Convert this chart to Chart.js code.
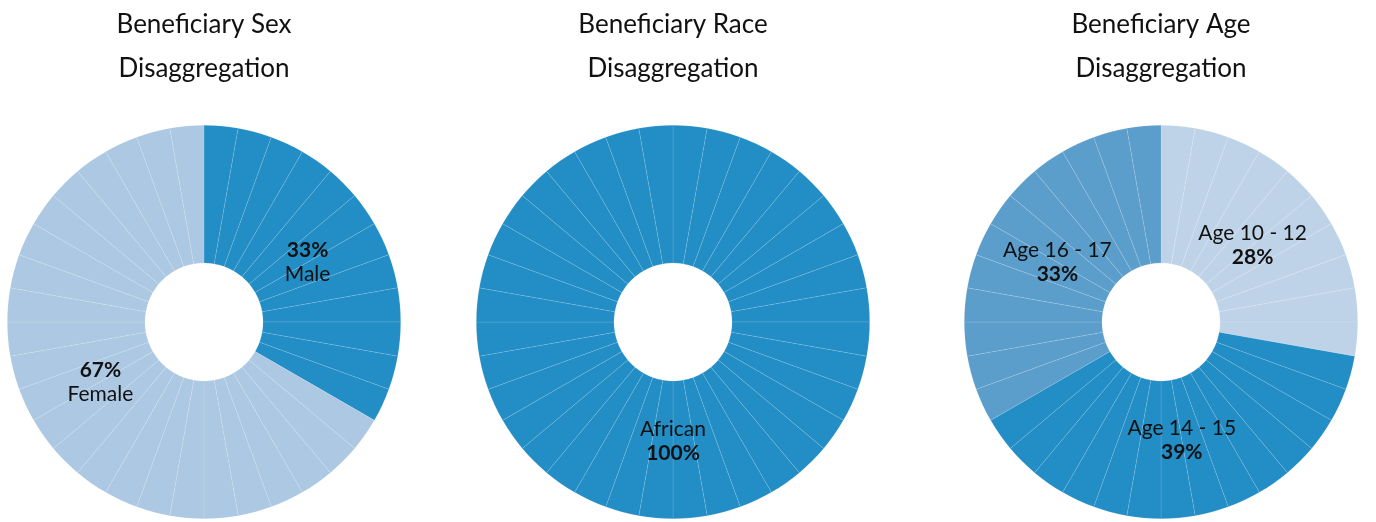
<!DOCTYPE html>
<html>
<head>
<meta charset="utf-8">
<title>Beneficiary Disaggregation</title>
<script src="https://cdn.jsdelivr.net/npm/chart.js@4/dist/chart.umd.min.js"></script>
<style>
    html, body { margin: 0; padding: 0; background: #fff; }
    body { width: 1376px; height: 522px; position: relative; overflow: hidden; }
    canvas { position: absolute; top: 0; }
</style>
</head>
<body>
<canvas id="sexChart" width="394" height="522" style="left:7px"></canvas>
<canvas id="raceChart" width="394" height="522" style="left:476px"></canvas>
<canvas id="ageChart" width="394" height="522" style="left:964px"></canvas>
<script>
// beneficiary counts per group (36 beneficiaries in total)
const sexLabels = ['Male', 'Female'];
const sexCounts = [12, 24];

const raceLabels = ['African'];
const raceCounts = [36];

const ageLabels = ['Age 10 - 12', 'Age 14 - 15', 'Age 16 - 17'];
const ageCounts = [10, 14, 12];

const sexTitle = ['Beneficiary Sex', 'Disaggregation'];
const raceTitle = ['Beneficiary Race', 'Disaggregation'];
const ageTitle = ['Beneficiary Age', 'Disaggregation'];

const FONT = "Lato, 'Noto Sans', sans-serif";
const palette = {
    dark: '#238dc5',
    light: '#adc8e2',
    lighter: '#bed3e8',
    mid: '#5c9ecb'
};

// one thin slice per beneficiary, coloured by its group
function expand(counts, colors) {
    const data = [];
    const bg = [];
    const groups = [];
    counts.forEach((c, g) => {
        for (let i = 0; i < c; i++) {
            data.push(1);
            bg.push(colors[g]);
            groups.push(g);
        }
    });
    return { data, bg, groups };
}

// writes "name / pct" in the middle of each group's arc
const groupLabels = {
    id: 'groupLabels',
    afterDatasetsDraw(chart, args, opts) {
        const ctx = chart.ctx;
        const arcs = chart.getDatasetMeta(0).data;
        const groups = opts.groups;
        const total = opts.counts.reduce((a, b) => a + b, 0);
        opts.labels.forEach((name, g) => {
            const first = groups.indexOf(g);
            const last = groups.lastIndexOf(g);
            if (first < 0) return;
            const a0 = arcs[first], a1 = arcs[last];
            const mid = (a0.startAngle + a1.endAngle) / 2;
            const r = a0.innerRadius + (a0.outerRadius - a0.innerRadius) * 0.44;
            const x = a0.x + Math.cos(mid) * r;
            const y = a0.y + Math.sin(mid) * r;
            const pct = Math.round(opts.counts[g] / total * 100) + '%';
            const lines = opts.percentFirst
                ? [[pct, 'bold'], [name, 'normal']]
                : [[name, 'normal'], [pct, 'bold']];
            ctx.save();
            ctx.fillStyle = '#111';
            ctx.textAlign = 'center';
            ctx.textBaseline = 'middle';
            lines.forEach((ln, i) => {
                ctx.font = ln[1] + ' 21px ' + FONT;
                ctx.fillText(ln[0], x, y + (i - 0.5) * 24);
            });
            ctx.restore();
        });
    }
};

function makeChart(id, title, labels, counts, colors, percentFirst) {
    const e = expand(counts, colors);
    new Chart(document.getElementById(id), {
        type: 'doughnut',
        data: {
            labels: e.groups.map(g => labels[g]),
            datasets: [{
                data: e.data,
                backgroundColor: e.bg,
                borderColor: 'rgba(255,255,255,0.2)',
                borderWidth: 0.6
            }]
        },
        options: {
            responsive: false,
            animation: false,
            cutout: '30%',
            events: [],
            layout: { padding: { left: 0, right: 0, top: 0, bottom: 3 } },
            plugins: {
                legend: { display: false },
                tooltip: { enabled: false },
                title: {
                    display: true,
                    text: title,
                    color: '#111',
                    font: { family: FONT, size: 26, weight: 'normal', lineHeight: 44 / 26 },
                    padding: { top: 3, bottom: 34 }
                },
                groupLabels: { labels, counts, groups: e.groups, percentFirst }
            }
        },
        plugins: [groupLabels]
    });
}

makeChart('sexChart', sexTitle, sexLabels, sexCounts, [palette.dark, palette.light], true);
makeChart('raceChart', raceTitle, raceLabels, raceCounts, [palette.dark], false);
makeChart('ageChart', ageTitle, ageLabels, ageCounts, [palette.lighter, palette.dark, palette.mid], false);
</script>
</body>
</html>
